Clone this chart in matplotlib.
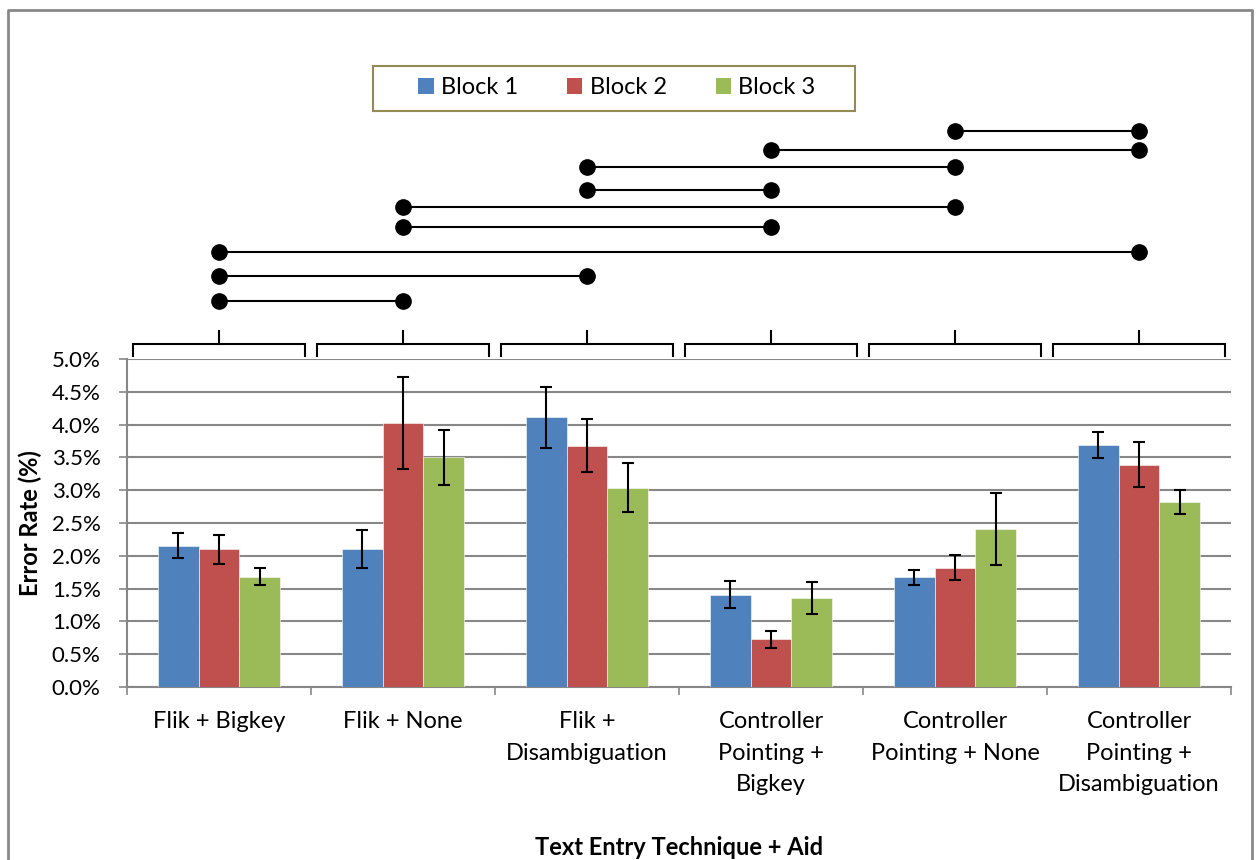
import matplotlib
matplotlib.use("Agg")
import matplotlib.pyplot as plt
from matplotlib.lines import Line2D
from matplotlib.patches import Rectangle, Patch
import numpy as np

# ---------------- data ----------------
categories = ["Flik + Bigkey", "Flik + None", "Flik +\nDisambiguation",
              "Controller\nPointing +\nBigkey", "Controller\nPointing + None",
              "Controller\nPointing +\nDisambiguation"]
series_names = ["Block 1", "Block 2", "Block 3"]
block1 = [2.15, 2.11, 4.11, 1.41, 1.67, 3.69]
block2 = [2.10, 4.03, 3.68, 0.73, 1.82, 3.39]
block3 = [1.68, 3.50, 3.04, 1.36, 2.41, 2.82]
err1 = [0.19, 0.29, 0.46, 0.21, 0.12, 0.20]
err2 = [0.22, 0.70, 0.40, 0.13, 0.19, 0.34]
err3 = [0.13, 0.42, 0.37, 0.24, 0.55, 0.19]
y_ticks = [0.0, 0.5, 1.0, 1.5, 2.0, 2.5, 3.0, 3.5, 4.0, 4.5, 5.0]
# significant pairwise differences (category indices), bottom to top
sig_pairs = [(0, 1), (0, 2), (0, 5), (1, 3), (1, 4), (2, 3), (2, 4), (3, 5), (4, 5)]

colors = ["#4F81BD", "#C0504D", "#9BBB59"]
grid_color = "#878787"
FONT = ["Lato", "DejaVu Sans"]
plt.rcParams["font.family"] = FONT
LABEL_FS = 17
TICK_FS = 16

W, H = 1257, 860
fig = plt.figure(figsize=(W / 100, H / 100), dpi=100)

# pixel layout of plot area
px_left, px_right, px_top, px_bottom = 127, 1231, 359, 687
ax = fig.add_axes([px_left / W, 1 - px_bottom / H, (px_right - px_left) / W,
                   (px_bottom - px_top) / H])

n = len(categories)
x = np.arange(n)
bw = 1 / 4.5
values = [block1, block2, block3]
errs = [err1, err2, err3]
for j in range(3):
    ax.bar(x + (j - 1) * bw, values[j], width=bw, color=colors[j],
           edgecolor="white", linewidth=0.4, zorder=3, label=series_names[j])
    ax.errorbar(x + (j - 1) * bw, values[j], yerr=errs[j], fmt="none",
                ecolor="black", elinewidth=1.5, capsize=4.3, capthick=1.5, zorder=4)

ax.set_xlim(-0.5, n - 0.5)
ax.set_ylim(0, 5.0)
ax.set_yticks(y_ticks)
ax.set_yticklabels([f"{v:.1f}%" for v in y_ticks])
ax.yaxis.grid(True, color=grid_color, linewidth=1.5, zorder=0)
ax.set_axisbelow(True)
for s in ["top", "right"]:
    ax.spines[s].set_visible(False)
for s in ["left", "bottom"]:
    ax.spines[s].set_color(grid_color)
    ax.spines[s].set_linewidth(1.5)
ax.tick_params(axis="y", length=6, width=1.2, color=grid_color, pad=13, labelsize=TICK_FS)

ax.set_xticks(np.arange(-0.5, n, 1.0))
ax.set_xticklabels([])
ax.tick_params(axis="x", which="major", length=6, width=1.2, color=grid_color)
ax.set_xticks(x, minor=True)
ax.set_xticklabels(categories, minor=True, fontsize=LABEL_FS, linespacing=1.6)
ax.tick_params(axis="x", which="minor", length=0, pad=17.5)

ax.set_ylabel("Error Rate (%)", fontsize=LABEL_FS, fontweight="bold")
ax.yaxis.set_label_coords((30 - px_left) / (px_right - px_left), 0.5)
ax.yaxis.label.set_verticalalignment("center")
ax.set_xlabel("Text Entry Technique + Aid", fontsize=LABEL_FS, fontweight="bold")
ax.xaxis.set_label_coords(0.5, (px_bottom - 847) / (px_bottom - px_top))
ax.xaxis.label.set_verticalalignment("center")

# ---------------- significance diagram above the plot ----------------
top_px = 100
axs = fig.add_axes([px_left / W, 1 - px_top / H, (px_right - px_left) / W,
                    (px_top - top_px) / H])
axs.set_xlim(-0.5, n - 0.5)
axs.set_ylim(0, px_top - top_px)
axs.axis("off")
half = 0.465
for i in range(n):
    axs.plot([i - half, i - half, i + half, i + half], [3, 15, 15, 3],
             color="black", linewidth=1.5, solid_joinstyle="miter", clip_on=False)
    axs.plot([i, i], [15, 28], color="black", linewidth=1.5, clip_on=False)
# vertical placement (pixels above the plot top) of each comparison line
level_px = [58, 83, 107, 132, 152, 169, 192, 209, 228]
for k, (a, b) in enumerate(sig_pairs):
    yk = level_px[k]
    axs.plot([a, b], [yk, yk], color="black", linewidth=1.5, marker="o",
             markersize=11, markerfacecolor="black", markeredgecolor="black",
             clip_on=False)

# ---------------- legend ----------------
fig.patches.append(Rectangle((373 / W, 1 - 111 / H), (855 - 373) / W, (111 - 66) / H,
                             transform=fig.transFigure, facecolor="white",
                             edgecolor="#948A54", linewidth=1.5, zorder=1))
handles = [Patch(facecolor=c, edgecolor="none") for c in colors]
fig.legend(handles, series_names, loc="center", bbox_to_anchor=(617 / W, 1 - 88 / H),
           ncol=3, frameon=False, fontsize=LABEL_FS, handlelength=0.64, handleheight=0.64,
           handletextpad=0.3, columnspacing=2.1)

# ---------------- outer frame ----------------
frame_c = "#898989"
fig.add_artist(Line2D([8 / W, 8 / W, 1252 / W, 1252 / W], [0, 1 - 10 / H, 1 - 10 / H, 0],
                      transform=fig.transFigure, color=frame_c, linewidth=2))

fig.savefig("out.png", dpi=100)
